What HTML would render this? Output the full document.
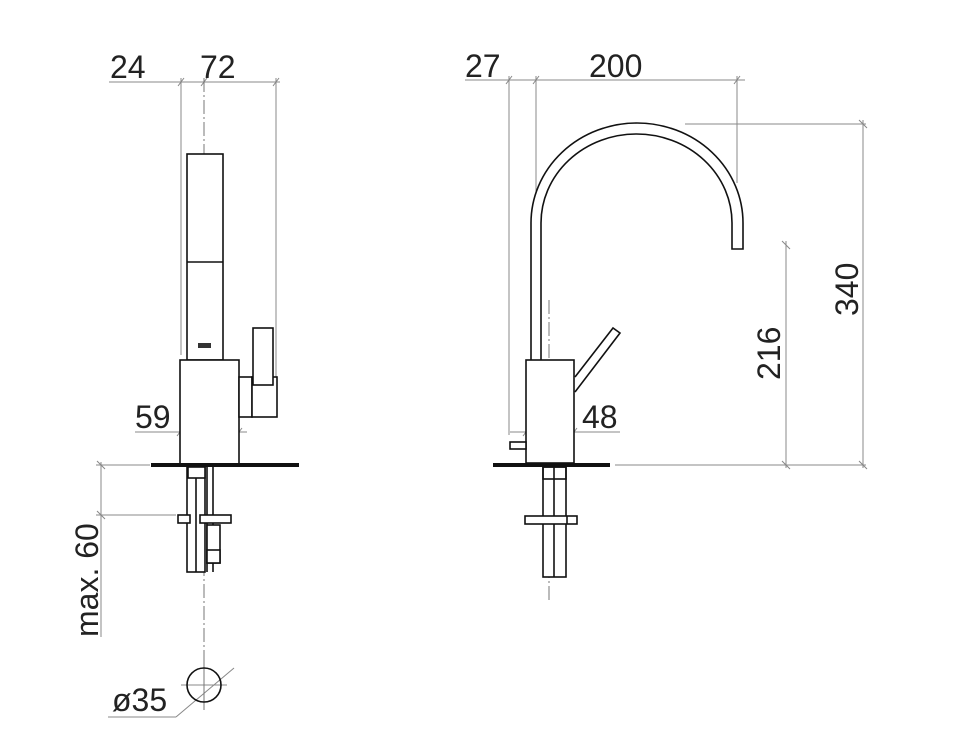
<!DOCTYPE html>
<html><head><meta charset="utf-8"><style>
html,body{margin:0;padding:0;background:#fff;}
svg{display:block;}
text{font-family:"Liberation Sans",sans-serif;font-size:32px;fill:#222;}
</style></head><body>
<svg width="963" height="737" viewBox="0 0 963 737" xmlns="http://www.w3.org/2000/svg">
<g stroke="#888" stroke-width="1" fill="none">
  <!-- left view dims -->
  <line x1="109" y1="82" x2="280" y2="82"/>
  <line x1="181" y1="78" x2="181" y2="355"/>
  <line x1="276" y1="78" x2="276" y2="378"/>
  <path d="M178 86l6-8M201 86l6-8M273 86l6-8"/>
  <line x1="135" y1="432" x2="247" y2="432"/>
  <path d="M177 436l6-8M236 436l6-8"/>
  <line x1="96" y1="465" x2="150" y2="465"/>
  <line x1="96" y1="515" x2="176" y2="515"/>
  <line x1="101" y1="462" x2="101" y2="637"/>
  <path d="M97 461l8 8M97 511l8 8"/>
  <!-- diameter -->
  <line x1="108" y1="717" x2="176" y2="717"/>
  <line x1="176" y1="717" x2="234" y2="668"/>
  <line x1="181" y1="685" x2="227" y2="685"/>
  <!-- right view dims -->
  <line x1="465" y1="80" x2="745" y2="80"/>
  <line x1="509" y1="76" x2="509" y2="435"/>
  <line x1="536" y1="76" x2="536" y2="200"/>
  <line x1="737" y1="76" x2="737" y2="183"/>
  <path d="M506 84l6-8M533 84l6-8M734 84l6-8"/>
  <line x1="510" y1="432" x2="620" y2="432"/>
  <path d="M523 436l6-8M571 436l6-8"/>
  <line x1="685" y1="124" x2="866" y2="124"/>
  <line x1="615" y1="465" x2="866" y2="465"/>
  <line x1="863" y1="120" x2="863" y2="468"/>
  <line x1="786" y1="241" x2="786" y2="468"/>
  <path d="M859 120l8 8M859 461l8 8M782 241l8 8M782 461l8 8"/>
</g>
<!-- centerlines -->
<g stroke="#777" stroke-width="1" fill="none" stroke-dasharray="14 3 2 3">
  <line x1="204" y1="78" x2="204" y2="705"/>
  <line x1="214" y1="330" x2="214" y2="465"/>
  <line x1="537" y1="225" x2="537" y2="345"/>
  <line x1="549" y1="300" x2="549" y2="600"/>
  <line x1="204" y1="660" x2="204" y2="710"/>
</g>
<!-- left view object -->
<g stroke="#111" stroke-width="1.6" fill="#fff">
  <rect x="187" y="154" width="36" height="206"/>
  <line x1="187" y1="262" x2="223" y2="262"/>
  <rect x="180" y="360" width="59" height="105"/>
  <rect x="239" y="377" width="13" height="40"/>
  <rect x="252" y="377" width="25" height="40"/>
  <rect x="253" y="328" width="20" height="57"/>
  <rect x="187" y="467" width="18" height="105"/>
  <line x1="196" y1="467" x2="196" y2="572"/>
  <line x1="207" y1="467" x2="207" y2="572"/>
  <line x1="213" y1="467" x2="213" y2="572"/>
  <rect x="188" y="467" width="17" height="11"/>
  <rect x="178" y="515" width="12" height="8"/>
  <rect x="200" y="515" width="31" height="8"/>
  <rect x="207" y="525" width="13" height="38"/>
  <rect x="207" y="550" width="13" height="13"/>
  <circle cx="204" cy="685" r="17" fill="none"/>
</g>
<rect x="198" y="343" width="13" height="5" fill="#333"/>
<rect x="151" y="463" width="148" height="4" fill="#111"/>
<!-- right view object -->
<g stroke="#111" stroke-width="1.6" fill="none">
  <path d="M531 360 L531 223 A106 100 0 0 1 743 223 L743 249 L732 249 L732 223 A95.5 89 0 0 0 541 223 L541 360" fill="#fff"/>
  <path d="M575 377 L613 328 L620 333 L575 392"/>
  <rect x="526" y="360" width="48" height="103" fill="#fff"/>
  <rect x="510" y="442" width="16" height="7" fill="#fff"/>
  <rect x="543" y="467" width="23" height="110" fill="#fff"/>
  <line x1="554" y1="467" x2="554" y2="577"/>
  <rect x="543" y="467" width="23" height="12"/>
  <rect x="525" y="516" width="52" height="8" fill="#fff"/>
  <line x1="567" y1="516" x2="567" y2="524"/>
</g>
<rect x="493" y="463" width="117" height="4" fill="#111"/>
<!-- labels -->
<text x="110" y="78">24</text>
<text x="200" y="78">72</text>
<text x="135" y="428">59</text>
<text x="0" y="0" transform="translate(98,637) rotate(-90)">max. 60</text>
<text x="112" y="711">ø35</text>
<text x="465" y="77">27</text>
<text x="589" y="77">200</text>
<text x="582" y="428">48</text>
<text x="0" y="0" transform="translate(780,380) rotate(-90)">216</text>
<text x="0" y="0" transform="translate(858,316) rotate(-90)">340</text>
</svg>
</body></html>
